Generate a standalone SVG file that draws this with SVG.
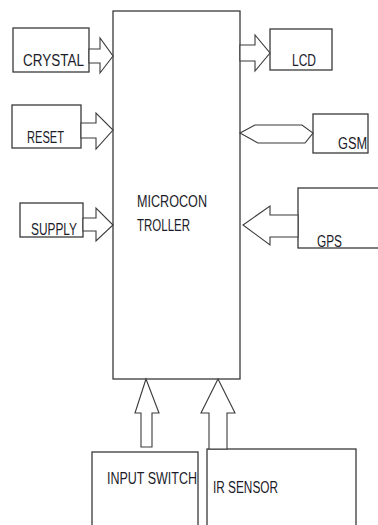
<svg xmlns="http://www.w3.org/2000/svg" width="378" height="525" viewBox="0 0 378 525">
<style>
.box{fill:#fff;stroke:#3a3a3a;stroke-width:1.3}
.arr{fill:#fff;stroke:#3a3a3a;stroke-width:1.1;stroke-linejoin:miter}
.t{font-family:"Liberation Sans",Arial,sans-serif;font-size:16px;fill:#1c1c2a}
</style>
<rect width="378" height="525" fill="#fff"/>
<g id="microcontroller">
<rect class="box" x="113" y="11" width="127" height="368"/>
<text class="t" x="137" y="207" textLength="70" lengthAdjust="spacingAndGlyphs">MICROCON</text>
<text class="t" x="137" y="231" textLength="53" lengthAdjust="spacingAndGlyphs">TROLLER</text>
</g>
<g id="crystal">
<rect class="box" x="13" y="28" width="76" height="44"/>
<text class="t" x="23" y="66" textLength="61" lengthAdjust="spacingAndGlyphs">CRYSTAL</text>
</g>
<g id="reset">
<rect class="box" x="12" y="105" width="69" height="43"/>
<text class="t" x="27" y="143" textLength="37" lengthAdjust="spacingAndGlyphs">RESET</text>
</g>
<g id="supply">
<rect class="box" x="20" y="203" width="63" height="34"/>
<text class="t" x="31" y="235" textLength="46" lengthAdjust="spacingAndGlyphs">SUPPLY</text>
</g>
<g id="lcd">
<rect class="box" x="270" y="29" width="62" height="41"/>
<text class="t" x="292" y="66" textLength="24" lengthAdjust="spacingAndGlyphs">LCD</text>
</g>
<g id="gsm">
<rect class="box" x="313" y="114" width="55" height="39"/>
<text class="t" x="338" y="149" textLength="29" lengthAdjust="spacingAndGlyphs">GSM</text>
</g>
<g id="gps">
<rect class="box" x="298" y="188" width="85" height="60"/>
<text class="t" x="317" y="247" textLength="25" lengthAdjust="spacingAndGlyphs">GPS</text>
</g>
<g id="input-switch">
<rect class="box" x="92" y="452" width="106" height="80"/>
<text class="t" x="107" y="484" textLength="90" lengthAdjust="spacingAndGlyphs">INPUT SWITCH</text>
</g>
<g id="ir-sensor">
<rect class="box" x="207" y="449" width="149" height="83"/>
<text class="t" x="213" y="493" textLength="65" lengthAdjust="spacingAndGlyphs">IR SENSOR</text>
</g>
<g id="connectors">
<polygon class="arr" points="89,49 100,49 100,38 113,56 100,73 100,63 89,63"/>
<polygon class="arr" points="81,123 96,123 96,113 113,130 96,149 96,138 81,138"/>
<polygon class="arr" points="83,218 96,218 96,208 113,225 96,241 96,231 83,231"/>
<polygon class="arr" points="240,45 255,45 255,35 270,53 255,71 255,61 240,61"/>
<polygon class="arr" points="240,133 255,125 302,125 313,133 305,143 258,143"/>
<polygon class="arr" points="298,215 270,215 270,206 243,225 270,245 270,237 298,237"/>
<polygon class="arr" points="141,447 141,413 135,413 146,379 159,413 152,413 152,447"/>
<polygon class="arr" points="209,449 209,413 201,413 218,379 235,413 227,413 227,449"/>
</g>
</svg>
